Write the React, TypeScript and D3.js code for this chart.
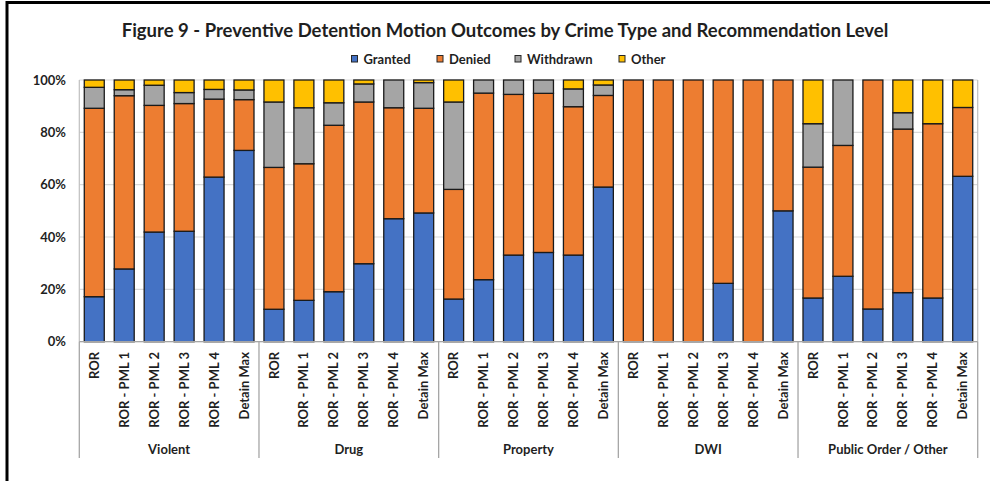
import React from "react";
import * as d3 from "d3";

// Crime types and recommendation levels shown along the x axis
const crimeTypes = ["Violent", "Drug", "Property", "DWI", "Public Order / Other"];
const levels = ["ROR", "ROR - PML 1", "ROR - PML 2", "ROR - PML 3", "ROR - PML 4", "Detain Max"];
const outcomes = ["Granted", "Denied", "Withdrawn", "Other"];
const yTicks = [0, 0.2, 0.4, 0.6, 0.8, 1];

// Percent of motions per outcome, one entry per crime type / level (levels in order above)
const granted = [
  17.2, 27.8, 41.9, 42.2, 62.9, 73.1,
  12.4, 15.8, 19.1, 29.8, 47.0, 49.2,
  16.3, 23.7, 33.1, 34.1, 33.1, 59.1,
  0, 0, 0, 22.3, 0, 50.0,
  16.7, 25.0, 12.5, 18.75, 16.7, 63.2,
];
const denied = [
  72.0, 66.2, 48.4, 48.8, 29.8, 19.4,
  54.2, 52.2, 63.6, 61.8, 42.4, 40.0,
  41.9, 71.3, 61.4, 60.8, 56.7, 35.0,
  100, 100, 100, 77.7, 100, 50.0,
  50.0, 50.0, 87.5, 62.5, 66.6, 26.3,
];
const withdrawn = [
  8.0, 2.3, 7.7, 4.2, 3.7, 3.7,
  25.0, 21.4, 8.6, 6.9, 10.6, 9.8,
  33.4, 5.0, 5.5, 5.1, 6.8, 4.0,
  0, 0, 0, 0, 0, 0,
  16.6, 25.0, 0, 6.25, 0, 0,
];
const other = [
  2.8, 3.7, 2.0, 4.8, 3.6, 3.8,
  8.4, 10.6, 8.7, 1.5, 0, 1.0,
  8.4, 0, 0, 0, 3.4, 1.9,
  0, 0, 0, 0, 0, 0,
  16.7, 0, 0, 12.5, 16.7, 10.5,
];

const colors: Record<string, string> = {
  Granted: "#4472C4",
  Denied: "#ED7D31",
  Withdrawn: "#A5A5A5",
  Other: "#FFC000",
};

const W = 990;
const H = 481;
const FONT = "Lato, 'Open Sans', sans-serif";
const TEXT = "#1f1f1f";

type Row = { key: string; crime: string; level: string; [k: string]: any };

const rows: Row[] = [];
crimeTypes.forEach((c, ci) =>
  levels.forEach((l, li) => {
    const i = ci * levels.length + li;
    rows.push({
      key: `${c}|${l}`,
      crime: c,
      level: l,
      Granted: granted[i] / 100,
      Denied: denied[i] / 100,
      Withdrawn: withdrawn[i] / 100,
      Other: other[i] / 100,
    });
  })
);

export default function App() {
  const left = 79.3;
  const right = 977.7;
  const top = 80;
  const bottom = 341.7;

  const x = d3
    .scaleBand<string>()
    .domain(rows.map((r) => r.key))
    .range([left, right])
    .paddingInner(0.333)
    .paddingOuter(0.1665);
  const y = d3.scaleLinear().domain([0, 1]).range([bottom, top]);

  const stacked = d3.stack<Row>().keys(outcomes)(rows);

  const groupEdges = crimeTypes.map((_, ci) => {
    const first = rows[ci * levels.length].key;
    const last = rows[ci * levels.length + levels.length - 1].key;
    const step = x.step();
    const x0 = x(first)! - (step - x.bandwidth()) / 2;
    const x1 = x(last)! + x.bandwidth() + (step - x.bandwidth()) / 2;
    return [x0, x1];
  });

  const legendItems = [
    { name: "Granted", x: 351.5 },
    { name: "Denied", x: 437 },
    { name: "Withdrawn", x: 515 },
    { name: "Other", x: 619 },
  ];

  return (
    <svg width={W} height={H} style={{ position: "absolute", left: 0, top: 0, background: "#fff" }}>
      <rect x={0} y={0} width={W} height={H} fill="#fff" />
      {/* outer frame */}
      <line x1={6} x2={W} y1={2.5} y2={2.5} stroke="#000" strokeWidth={3} />
      <line x1={7} x2={7} y1={1} y2={H} stroke="#000" strokeWidth={3} />

      <text
        x={505}
        y={36.5}
        textAnchor="middle"
        fontFamily={FONT}
        fontWeight={700}
        fontSize={18.5}
        fill={TEXT}
      >
        Figure 9 - Preventive Detention Motion Outcomes by Crime Type and Recommendation Level
      </text>

      {/* legend */}
      {legendItems.map((it) => (
        <g key={it.name}>
          <rect
            x={it.x}
            y={55.5}
            width={6}
            height={6.5}
            fill={colors[it.name]}
            stroke="#262626"
            strokeWidth={1}
          />
          <text
            x={it.x + 12}
            y={63.5}
            fontFamily={FONT}
            fontWeight={700}
            fontSize={13}
            fill={TEXT}
          >
            {it.name}
          </text>
        </g>
      ))}

      {/* gridlines and y labels */}
      {yTicks.map((t) => (
        <g key={t}>
          <line x1={left} x2={right} y1={y(t)} y2={y(t)} stroke="#D9D9D9" strokeWidth={1.2} />
          <text
            x={66}
            y={y(t)}
            dy="0.35em"
            textAnchor="end"
            fontFamily={FONT}
            fontWeight={700}
            fontSize={13}
            fill={TEXT}
          >
            {d3.format(".0%")(t)}
          </text>
        </g>
      ))}
      <line x1={left} x2={left} y1={top} y2={bottom} stroke="#BFBFBF" strokeWidth={1.2} />
      <line x1={right} x2={right} y1={top} y2={bottom} stroke="#BFBFBF" strokeWidth={1.2} />

      {/* stacked bars */}
      {stacked.map((series) => (
        <g key={series.key} fill={colors[series.key]}>
          {series.map((d) =>
            d[1] - d[0] > 0 ? (
              <rect
                key={d.data.key}
                x={x(d.data.key)}
                y={y(d[1])}
                width={x.bandwidth()}
                height={y(d[0]) - y(d[1])}
                stroke="#1a1a1a"
                strokeWidth={1.3}
              />
            ) : null
          )}
        </g>
      ))}

      {/* x axis */}
      <line x1={left} x2={right} y1={bottom} y2={bottom} stroke="#A6A6A6" strokeWidth={1.3} />
      {groupEdges.map(([x0, x1], i) => (
        <g key={crimeTypes[i]}>
          <line x1={x0} x2={x0} y1={bottom} y2={458} stroke="#A6A6A6" strokeWidth={1.3} />
          {i === groupEdges.length - 1 && (
            <line x1={x1} x2={x1} y1={bottom} y2={458} stroke="#A6A6A6" strokeWidth={1.3} />
          )}
          <text
            x={(x0 + x1) / 2}
            y={453.5}
            textAnchor="middle"
            fontFamily={FONT}
            fontWeight={700}
            fontSize={13}
            fill={TEXT}
          >
            {crimeTypes[i]}
          </text>
        </g>
      ))}
      {rows.map((r) => {
        const cx = x(r.key)! + x.bandwidth() / 2;
        return (
          <text
            key={r.key}
            transform={`translate(${cx},352) rotate(-90)`}
            dy="0.35em"
            textAnchor="end"
            fontFamily={FONT}
            fontWeight={700}
            fontSize={13}
            fill={TEXT}
          >
            {r.level}
          </text>
        );
      })}
    </svg>
  );
}
